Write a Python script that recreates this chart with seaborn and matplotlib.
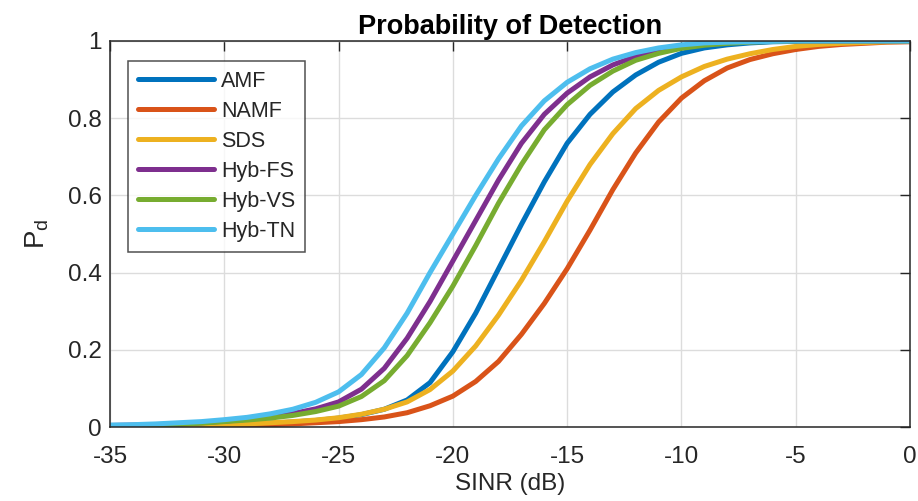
import numpy as np
import pandas as pd
import matplotlib
matplotlib.use("Agg")
import matplotlib.pyplot as plt
import seaborn as sns
from matplotlib.lines import Line2D

sinr = list(range(-35, 1))

amf = [0.001, 0.002, 0.002, 0.003, 0.004, 0.006, 0.008, 0.010, 0.013, 0.017,
       0.023, 0.032, 0.046, 0.070, 0.115, 0.195, 0.295, 0.410, 0.525, 0.635,
       0.735, 0.810, 0.868, 0.912, 0.945, 0.968, 0.982, 0.990, 0.995, 0.998,
       0.999, 1.000, 1.000, 1.000, 1.000, 1.000]
namf = [0.001, 0.001, 0.002, 0.002, 0.003, 0.004, 0.005, 0.006, 0.008, 0.011,
        0.014, 0.019, 0.026, 0.037, 0.055, 0.080, 0.118, 0.170, 0.240, 0.320,
        0.410, 0.510, 0.615, 0.710, 0.790, 0.852, 0.897, 0.930, 0.952, 0.967,
        0.978, 0.986, 0.991, 0.994, 0.997, 0.998]
sds = [0.001, 0.002, 0.002, 0.003, 0.004, 0.006, 0.008, 0.011, 0.014, 0.018,
       0.024, 0.033, 0.046, 0.065, 0.097, 0.145, 0.210, 0.290, 0.380, 0.480,
       0.585, 0.680, 0.760, 0.825, 0.872, 0.907, 0.934, 0.953, 0.967, 0.978,
       0.986, 0.991, 0.994, 0.996, 0.998, 0.999]
hyb_fs = [0.004, 0.005, 0.006, 0.008, 0.011, 0.015, 0.020, 0.026, 0.035, 0.047,
          0.065, 0.098, 0.152, 0.230, 0.325, 0.430, 0.535, 0.640, 0.735, 0.810,
          0.865, 0.907, 0.938, 0.960, 0.975, 0.986, 0.992, 0.996, 0.998, 0.999,
          1.000, 1.000, 1.000, 1.000, 1.000, 1.000]
hyb_vs = [0.003, 0.004, 0.005, 0.007, 0.010, 0.014, 0.018, 0.023, 0.030, 0.040,
          0.054, 0.079, 0.120, 0.185, 0.270, 0.365, 0.470, 0.580, 0.680, 0.770,
          0.835, 0.885, 0.922, 0.950, 0.968, 0.981, 0.989, 0.994, 0.997, 0.999,
          1.000, 1.000, 1.000, 1.000, 1.000, 1.000]
hyb_tn = [0.005, 0.006, 0.008, 0.011, 0.014, 0.019, 0.025, 0.034, 0.046, 0.064,
          0.091, 0.136, 0.205, 0.295, 0.400, 0.500, 0.600, 0.695, 0.780, 0.845,
          0.893, 0.928, 0.953, 0.970, 0.982, 0.990, 0.995, 0.997, 0.998, 0.999,
          1.000, 1.000, 1.000, 1.000, 1.000, 1.000]

series_names = ["AMF", "NAMF", "SDS", "Hyb-FS", "Hyb-VS", "Hyb-TN"]
series_vals = [amf, namf, sds, hyb_fs, hyb_vs, hyb_tn]
colors = ["#0072BD", "#D95319", "#EDB120", "#7E2F8E", "#77AC30", "#4DBEEE"]

x_ticks = [-35, -30, -25, -20, -15, -10, -5, 0]
x_ticklabels = ["-35", "-30", "-25", "-20", "-15", "-10", "-5", "0"]
y_ticks = [0, 0.2, 0.4, 0.6, 0.8, 1.0]
y_ticklabels = ["0", "0.2", "0.4", "0.6", "0.8", "1"]

rows = []
for name, vals in zip(series_names, series_vals):
    for xv, yv in zip(sinr, vals):
        rows.append({"SINR": xv, "Pd": yv, "Method": name})
df = pd.DataFrame(rows)

sns.set_style("white")
plt.rcParams["font.family"] = ["Liberation Sans", "DejaVu Sans"]
plt.rcParams["axes.unicode_minus"] = False

dark = "#262626"
fig = plt.figure(figsize=(9.18, 5.01), dpi=100)
ax = fig.add_axes([110 / 918, 1 - 427 / 501, 800 / 918, 386 / 501])

sns.lineplot(data=df, x="SINR", y="Pd", hue="Method", hue_order=series_names,
             palette=colors, linewidth=3.6, ax=ax, legend=False)

ax.set_xlim(-35, 0)
ax.set_ylim(0, 1)
ax.set_xticks(x_ticks)
ax.set_xticklabels(x_ticklabels)
ax.set_yticks(y_ticks)
ax.set_yticklabels(y_ticklabels)
ax.tick_params(axis="both", which="both", direction="in", length=7, width=1,
               colors=dark, labelsize=17.5, top=True, right=True)
ax.tick_params(axis="x", pad=14)
ax.tick_params(axis="y", pad=6)
ax.grid(True, color="#dcdcdc", linewidth=1)
for s in ax.spines.values():
    s.set_color(dark)
    s.set_linewidth(1.1)
ax.set_axisbelow(True)

ax.set_xlabel("SINR (dB)", fontsize=17.5, color=dark, labelpad=3)
ax.set_ylabel("$\\mathregular{P_d}$", fontsize=20, color=dark, labelpad=12)
ax.set_title("Probability of Detection", fontsize=19.5, fontweight="bold",
             color="black", pad=5)

handles = [Line2D([0], [0], color=c, lw=3.6) for c in colors]
leg = ax.legend(handles, series_names, loc="upper left",
                bbox_to_anchor=(18 / 800, 1 - 20 / 386), borderaxespad=0,
                fontsize=15.5, frameon=True, fancybox=False, handlelength=3.55,
                handletextpad=0.32, labelspacing=0.42, borderpad=0.45)
leg.get_frame().set_edgecolor(dark)
leg.get_frame().set_linewidth(1.1)
for t in leg.get_texts():
    t.set_color(dark)

fig.savefig("out.png", dpi=100)
